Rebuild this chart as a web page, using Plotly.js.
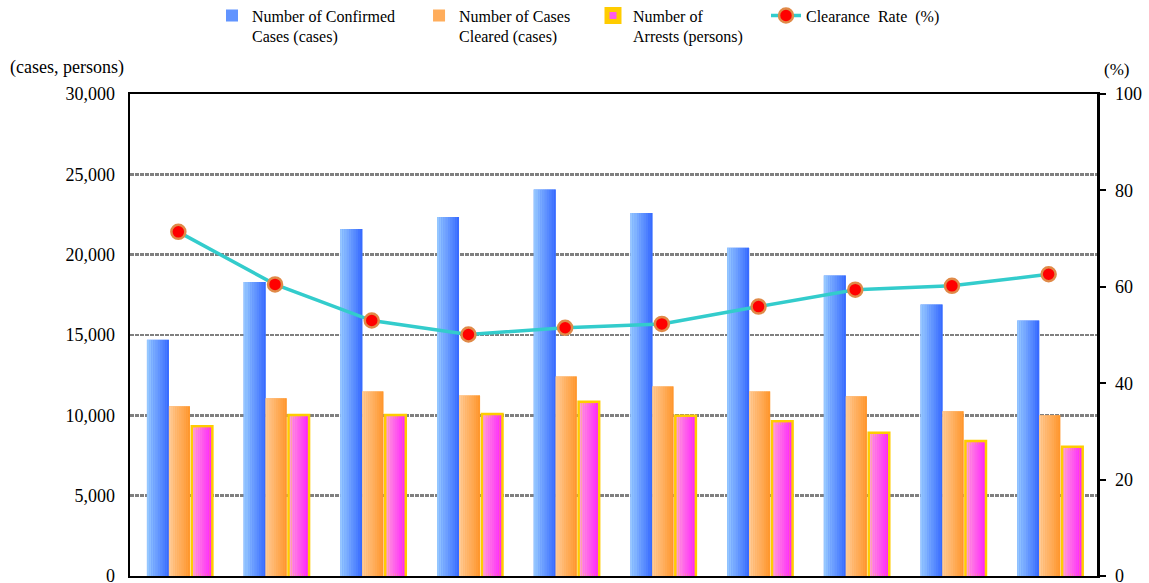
<!DOCTYPE html>
<html>
<head>
<meta charset="utf-8">
<script src="https://cdn.plot.ly/plotly-3.0.1.min.js"></script>
<style>html,body{margin:0;padding:0;background:#fff}#chart{width:1149px;height:583px}</style>
</head>
<body>
<div id="chart"></div>
<script>
// Ten periods (x labels are cut off in the reference image)
const categories = ["1","2","3","4","5","6","7","8","9","10"];
const confirmedCases = [14700, 18300, 21600, 22350, 24050, 22600, 20430, 18700, 16900, 15900];
const clearedCases   = [10560, 11060, 11490, 11240, 12420, 11800, 11490, 11180, 10250, 10000];
const arrests        = [9250, 9940, 9940, 10000, 10760, 9900, 9560, 8840, 8320, 7970];
const clearanceRate  = [71.4, 60.5, 53.0, 50.1, 51.5, 52.3, 55.9, 59.4, 60.2, 62.6];

const seriesNames = [
  "Number of Confirmed<br>Cases (cases)",
  "Number of Cases<br>Cleared (cases)",
  "Number of<br>Arrests (persons)",
  "Clearance  Rate  (%)"
];

const FONT = "'Liberation Serif', 'Times New Roman', Times, serif";

// style helpers (colours / geometry only)
function hex2rgb(h){return [parseInt(h.substr(1,2),16),parseInt(h.substr(3,2),16),parseInt(h.substr(5,2),16)];}
function mix(a,b,t){const A=hex2rgb(a),B=hex2rgb(b);return "rgb("+A.map((v,i)=>Math.round(v+(B[i]-v)*t)).join(",")+")";}

const NS = 10; // gradient slices per bar
function gradientBars(yvals, name, legendId, offset, width, c0, c1, border){
  const out = [];
  // base bar: carries the legend entry (and the border, if any)
  out.push({type:"bar", x:categories, y:yvals, name:name, legend:legendId,
    offset:offset, width:width, yaxis:"y",
    marker:{color:mix(c0,c1,0.55), line: border ? {color:border, width:5} : {width:0}}});
  for(let i=0;i<NS;i++){
    out.push({type:"bar", x:categories, y:yvals, name:name, showlegend:false, legend:legendId,
      offset:offset + width*i/NS, width:width/NS, yaxis:"y",
      marker:{color:mix(c0,c1,(i+0.5)/NS), line:{width:0}}});
  }
  return out;
}

const traces = [].concat(
  gradientBars(confirmedCases, seriesNames[0], "legend", -0.325, 0.2275, "#9accff", "#3366ff", null),
  gradientBars(clearedCases, seriesNames[1], "legend2", -0.0975, 0.2175, "#ffcc99", "#ff9428", null),
  gradientBars(arrests, seriesNames[2], "legend3", 0.152, 0.187, "#ff9ed8", "#ff22ff", "#ffcc00"),
  [{type:"scatter", mode:"lines+markers", x:categories, y:clearanceRate, name:seriesNames[3], legend:"legend4",
   yaxis:"y2", line:{color:"#33cccc", width:3.5},
   marker:{color:"#ff0000", size:14, line:{color:"#e08a48", width:2.5}}}]
);

const legBase = {orientation:"h", yanchor:"top", xanchor:"left", y:1.198, valign:"top",
  bgcolor:"rgba(0,0,0,0)", font:{family:FONT, size:16, color:"#000"}, tracegroupgap:0};

const layout = {
  width:1149, height:583,
  margin:{l:130, r:52, t:94, b:7, autoexpand:false},
  paper_bgcolor:"#fff", plot_bgcolor:"#fff",
  font:{family:FONT, size:17, color:"#000"},
  barmode:"overlay",
  showlegend:true,
  legend: Object.assign({}, legBase, {x:0.0848}),
  legend2: Object.assign({}, legBase, {x:0.2989}),
  legend3: Object.assign({}, legBase, {x:0.4788}),
  legend4: Object.assign({}, legBase, {x:0.6577}),
  xaxis:{type:"category", showticklabels:false, ticks:"", showgrid:false,
    showline:true, linecolor:"#000", linewidth:2, mirror:true, zeroline:false,
    range:[-0.5, 9.5]},
  yaxis:{range:[0,30000], dtick:5000, tickformat:",d", showline:true, linecolor:"#000", linewidth:2.5,
    showgrid:true, gridcolor:"#808080", gridwidth:2.5, griddash:"4px,1px", zeroline:false,
    ticks:"", ticklabelstandoff:9, ticklabeloverflow:"allow",
    tickfont:{family:FONT, size:18, color:"#000"}},
  yaxis2:{range:[0,100], dtick:20, overlaying:"y", side:"right", showgrid:false, zeroline:false,
    showline:true, linecolor:"#000", linewidth:2.5, ticks:"outside", ticklen:6, tickwidth:2, tickcolor:"#000",
    ticklabelstandoff:6, ticklabeloverflow:"allow", tickfont:{family:FONT, size:18, color:"#000"}},
  annotations:[
    {text:"(cases, persons)", xref:"paper", yref:"paper", x:-0.126, y:1.056, xanchor:"left", yanchor:"middle",
     showarrow:false, font:{family:FONT, size:18, color:"#000"}},
    {text:"(%)", xref:"paper", yref:"paper", x:1.005, y:1.05, xanchor:"left", yanchor:"middle",
     showarrow:false, font:{family:FONT, size:17, color:"#000"}}
  ]
};

Plotly.newPlot("chart", traces, layout, {displayModeBar:false, staticPlot:true});
</script>
</body>
</html>
